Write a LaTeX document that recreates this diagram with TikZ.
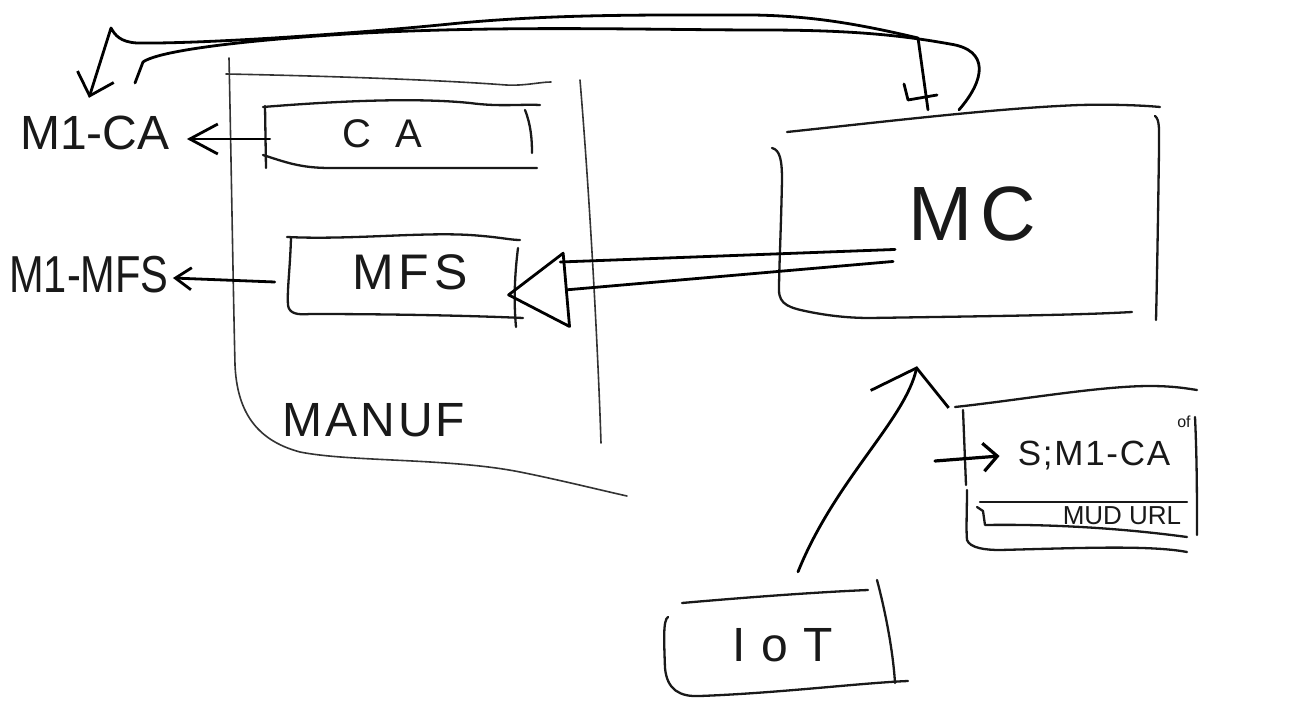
\documentclass[tikz,border=0pt]{standalone}
\usepackage{fontspec}
\setmainfont{Liberation Sans}
\usetikzlibrary{arrows.meta}
\newcommand{\fs}[2]{\fontsize{#1}{#1}\selectfont\addfontfeatures{LetterSpace=#2}}
\tikzset{
  sk/.style={line width=2.8pt, line cap=round, line join=round, draw=black},
  skbox/.style={line width=2.3pt, line cap=round, line join=round, draw=black!90},
  skthin/.style={line width=1.6pt, line cap=round, line join=round, draw=black!80},
  lbl/.style={inner sep=0pt, text=black!90},
  holder/.style={inner sep=0pt, draw=none}
}
\begin{document}
\begin{tikzpicture}[x=1pt,y=-1pt]
\useasboundingbox (0,0) rectangle (1312,722);
\fill[white] (0,0) rectangle (1312,722);

% ---------- invisible box holders ----------
\node[holder, minimum width=370pt, minimum height=400pt] (manufbox) at (416,270) {};
\node[holder, minimum width=270pt, minimum height=58pt]  (cabox)   at (400,136) {};
\node[holder, minimum width=228pt, minimum height=76pt]  (mfsbox)  at (403,278) {};
\node[holder, minimum width=380pt, minimum height=206pt] (mcbox)   at (968,213) {};
\node[holder, minimum width=228pt, minimum height=100pt] (iotbox)  at (785,640) {};
\node[holder, minimum width=235pt, minimum height=150pt] (sigbox)  at (1080,467) {};
\node[holder, minimum width=205pt, minimum height=30pt]  (mudbox)  at (1083,517) {};

% ---------- labels ----------
\node[lbl, font=\fs{48}{0}] (m1ca) at (95,133) {M1-CA};
\node[lbl, font=\fs{52}{0}] (m1mfs) at (89,275) {\scalebox{0.8}[1]{M1-MFS}};
\node[lbl, font=\fs{40}{60}] (ca) at (382,134) {CA};
\node[lbl, font=\fs{50}{10}] (mfs) at (410,272) {MFS};
\node[lbl, font=\fs{48}{6}] (manuf) at (374,420) {MANUF};
\node[lbl, font=\fs{77}{10}] (mc) at (972,214) {MC};
\node[lbl, font=\fs{48}{32}] (iot) at (783,645) {IoT};
\node[lbl, font=\fs{35}{5}] (sig) at (1094,456) {S;M1-CA};
\node[lbl, font=\fs{16}{0}] (of) at (1184,422) {of};
\node[lbl, font=\fs{26}{0}] (mud) at (1122,516) {MUD URL};

% ---------- MANUF outline ----------
\draw[skthin] (229,58) .. controls (231,150) and (233,280) .. (235,365)
  .. controls (237,410) and (255,440) .. (300,452)
  .. controls (350,462) and (450,458) .. (520,472)
  .. controls (560,480) and (600,490) .. (627,496);
\draw[skthin] (226,74) .. controls (330,76) and (440,80) .. (506,85)
  .. controls (525,86) and (540,82) .. (551,82);
\draw[skthin] (580,80) .. controls (590,200) and (598,350) .. (601,443);

% ---------- CA box ----------
\draw[skbox] (263,107) .. controls (350,100) and (420,98) .. (470,103)
  .. controls (500,107) and (520,104) .. (540,105);
\draw[skbox] (263,155) .. controls (285,162) and (300,168) .. (330,168) -- (537,168);
\draw[skbox] (265,106) -- (266,168);
\draw[skbox] (525,110) .. controls (531,125) and (532,140) .. (532,153);

% ---------- MFS box ----------
\draw[skbox] (287,237) .. controls (350,240) and (420,232) .. (470,235)
  .. controls (500,237) and (510,240) .. (520,240);
\draw[skbox] (291,238) .. controls (290,270) and (287,290) .. (288,305)
  .. controls (289,314) and (298,315) .. (310,314)
  .. controls (400,314) and (480,316) .. (523,318);
\draw[skbox] (518,248) .. controls (514,280) and (514,305) .. (516,327);

% ---------- MC box ----------
\draw[skbox] (787,132) .. controls (900,120) and (1000,108) .. (1080,105)
  .. controls (1120,104) and (1150,106) .. (1160,107);
\draw[skbox] (772,148) .. controls (780,150) and (782,160) .. (782,180)
  .. controls (781,230) and (779,270) .. (779,290)
  .. controls (779,305) and (790,308) .. (810,312)
  .. controls (830,316) and (850,318) .. (870,318)
  .. controls (1000,316) and (1080,315) .. (1132,312);
\draw[skbox] (1155,116) .. controls (1160,120) and (1159,130) .. (1159,150)
  .. controls (1158,220) and (1157,280) .. (1156,320);

% ---------- IoT box ----------
\draw[skbox] (682,603) .. controls (750,597) and (820,592) .. (868,590);
\draw[skbox] (668,617) .. controls (663,620) and (664,640) .. (665,668)
  .. controls (667,690) and (680,697) .. (700,696)
  .. controls (780,693) and (860,683) .. (908,681);
\draw[skbox] (877,580) .. controls (885,610) and (893,650) .. (895,683);

% ---------- S;M1-CA box ----------
\draw[skbox] (955,407) .. controls (1020,400) and (1100,386) .. (1150,386)
  .. controls (1175,386) and (1190,389) .. (1197,390);
\draw[skbox] (963,410) -- (966,485);
\draw[skbox] (967,490) .. controls (967,510) and (966,530) .. (967,540)
  .. controls (970,548) and (985,550) .. (1000,550)
  .. controls (1080,548) and (1150,545) .. (1187,552);
\draw[skbox] (1195,417) .. controls (1197,460) and (1197,500) .. (1197,535);
% MUD URL box
\draw[skbox] (980,502) -- (1187,502);
\draw[skbox] (977,507) -- (983,511) -- (985,525)
  .. controls (1050,524) and (1120,528) .. (1187,537);

% ---------- connectors ----------
% CA -> M1-CA
\draw[sk, -{Straight Barb[length=28pt,width=30pt]}]
  ([xshift=5pt,yshift=-3pt]cabox.west) -- ([xshift=17pt,yshift=-6pt]m1ca.east);
% MFS -> M1-MFS
\draw[sk, -{Straight Barb[length=16pt,width=22pt]}]
  ([xshift=-14pt,yshift=-4pt]mfsbox.west) -- ([xshift=4pt,yshift=-3pt]m1mfs.east);
% MC -> MFS (double stroke, big open head)
\draw[sk] ([xshift=-13pt,yshift=-8pt]mc.south west) -- ([xshift=43pt,yshift=16pt]mfsbox.east);
\draw[sk, -{Triangle[open,round,length=62pt,width=78pt]}]
  ([xshift=-15pt,yshift=-20pt]mc.south west) -- ([xshift=-10pt,yshift=-17pt]mfsbox.east);
% MC -> M1-CA (over the top)
\draw[sk, -{Straight Barb[length=20pt,width=38pt]}]
  ([xshift=-40pt]mcbox.north) -- (918,38)
  .. controls (850,22) and (800,14) .. (730,15)
  .. controls (650,15) and (550,14) .. (450,24)
  .. controls (350,34) and (200,44) .. (137,43)
  .. controls (120,42) and (115,35) .. (111,28)
  -- ([xshift=-6pt,yshift=18pt]m1ca.north);
\draw[sk] ([xshift=-9pt]mcbox.north) .. controls (985,80) and (990,50) .. (950,44)
  .. controls (900,35) and (850,30) .. (762,30)
  .. controls (650,30) and (500,25) .. (347,34)
  .. controls (250,40) and (160,50) .. (143,62) -- (135,83);
\draw[sk] (904,84) -- (908,100) -- (937,95);
% IoT -> MC
\draw[sk, -{Straight Barb[length=32pt,width=80pt]}]
  ([xshift=13pt,yshift=18pt]iotbox.north) .. controls (835,480) and (905,420) .. ([xshift=-51pt,yshift=-50pt]mcbox.south);
% incoming arrow to S;M1-CA
\coordinate (sigin) at (935,461);
\draw[sk, line width=3.2pt, -{Straight Barb[length=14pt,width=28pt]}]
  (sigin) -- ([xshift=-18pt]sig.west);
\end{tikzpicture}
\end{document}
